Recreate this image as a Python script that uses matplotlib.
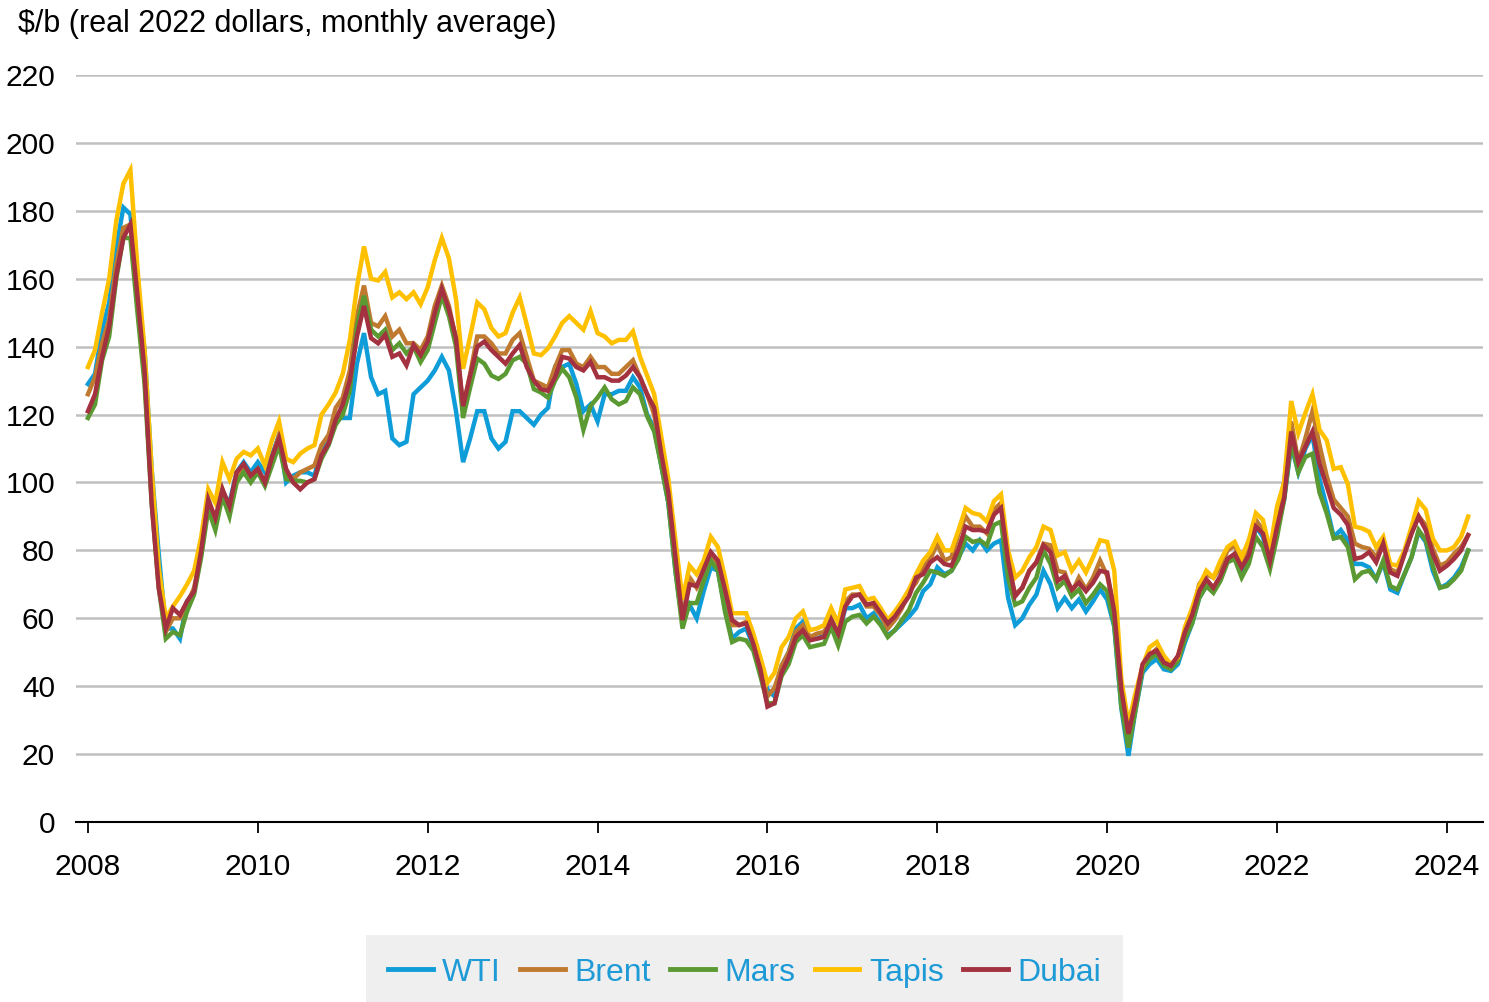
import matplotlib
matplotlib.use("Agg")
import matplotlib.pyplot as plt
import numpy as np

plt.rcParams["font.family"] = ["Liberation Sans", "DejaVu Sans"]

# monthly averages, real 2022 $/b, Jan 2008 .. Apr 2024
wti = [
    129, 132, 145, 153, 169, 181, 179, 156, 139, 104, 79, 57,          # 2008
    57, 54, 65, 68, 80, 95, 87, 97, 94, 103, 106, 103,                 # 2009
    106, 103, 108, 114, 100, 102, 103, 103, 102, 110, 113, 119,        # 2010
    119, 119, 135, 144, 131, 126, 127, 113, 111, 112, 126, 128,        # 2011
    130, 133, 137, 133, 121, 106, 113, 121, 121, 113, 110, 112,        # 2012
    121, 121, 119, 117, 120, 122, 134, 134, 135, 129, 121, 123,        # 2013
    118, 126, 126, 127, 127, 131, 128, 120, 116, 105, 94, 74,          # 2014
    59, 64, 60, 68, 75, 74, 63, 54, 56, 57, 52, 45,                    # 2015
    39, 37, 46, 50, 57, 59, 54, 54, 55, 60, 55, 63,                    # 2016
    63, 64, 60, 61.5, 58.5, 55, 56.5, 58.5, 60.5, 63, 68, 70,          # 2017
    75, 73, 74, 78, 82, 80, 83, 80, 82, 83, 66, 58,                    # 2018
    60, 64, 67, 74, 70, 63, 66, 63, 65.5, 62, 65, 68.5,                # 2019
    65.5, 57.5, 33.5, 19.5, 33, 44, 46.5, 48, 45, 44.5, 46.5, 53,      # 2020
    58.5, 66, 69.5, 68, 71.5, 77.5, 78.5, 73, 77, 87, 84, 76,          # 2021
    87, 95, 111, 103, 110, 114, 101, 93, 84, 86, 83, 76,               # 2022
    76, 75, 71.5, 76.5, 68.5, 67.5, 73, 78, 85.5, 82.5, 74, 69,        # 2023
    70, 72, 75, 80,                                                    # 2024
]
brent = [
    126, 131, 141, 148, 164, 175, 176, 152, 131, 96, 72, 56,
    60, 60, 64, 69, 79, 94, 88, 98, 92, 100, 105, 102,
    104, 100, 107, 114, 103, 101, 103, 104, 105, 111, 114, 122,
    125, 133, 149, 158, 147, 146, 149, 143, 145, 141, 141, 139,
    143, 152, 158, 152, 142, 122, 132, 143, 143, 141, 138, 138,
    142, 144, 137, 130, 129, 128, 134, 139, 139, 135, 134, 137,
    134, 134, 132, 132, 134, 136, 131, 126, 120, 108, 97, 77,
    60, 72, 69, 73, 79, 76, 69, 58, 58, 59, 53, 46,
    37, 39.5, 46, 50, 56, 58, 54.5, 55.5, 56, 60, 54.5, 65,
    67, 67, 63.5, 63.5, 61, 57, 59.5, 63, 68, 70.5, 75, 77.5,
    82, 77, 78, 85, 90, 87, 87, 85, 92, 94, 75.5, 67,
    69, 74, 76.5, 82, 81.5, 74, 73.5, 67.5, 72, 68.5, 72, 77,
    72.5, 63, 36.5, 22, 34, 46, 49, 51, 46.5, 45.5, 48.5, 56.5,
    61.5, 70, 73, 72, 75, 80, 81.5, 76.5, 80, 89, 86, 78.5,
    90, 100, 118, 106, 113, 121, 111, 102, 95, 92.5, 90, 82,
    81, 80.5, 78, 82.5, 74.5, 73.5, 79, 85, 90, 87.5, 80.5, 75.5,
    76.5, 79, 81, 84.5,
]
mars = [
    119, 123, 136, 143, 160, 172, 172, 150, 129, 94, 69, 54,
    56, 55, 62, 67, 78, 92, 86, 96, 90, 100, 103, 100,
    103, 99, 105, 111, 101, 100.5, 100.5, 100, 101, 107, 111, 117,
    120, 127, 146, 155, 145, 143, 145, 139, 141, 138, 140, 135.5,
    139, 147, 155, 149, 140, 119, 128, 136.5, 135, 131.5, 130.5, 132,
    136, 137, 135, 127.5, 126.5, 125, 130, 133.5, 131, 125, 115.5, 122.5,
    125, 128, 124.5, 123, 124, 128, 126, 119.5, 115, 105, 94, 74,
    57, 64.5, 64.5, 71, 77, 74, 62, 53, 54, 53.5, 50.5, 43,
    35, 35, 43, 46.5, 53, 55, 51.5, 52, 52.5, 57.5, 52, 59,
    60.5, 61, 58.5, 60.5, 58, 54.5, 56.5, 59.5, 62.5, 67.5, 70.5, 74,
    73.5, 72.5, 74, 77.5, 84, 82.5, 83, 81.5, 87.5, 88.5, 72, 64,
    65, 69, 72, 80, 76, 69, 71, 66.5, 68.5, 64.5, 67, 70,
    68, 58, 34, 22, 33, 45, 48, 49.5, 46, 45, 47.5, 54,
    58.5, 66, 69.5, 67.5, 71, 76.5, 77.5, 72, 76, 84, 81, 74.5,
    84, 95, 112, 103, 107.5, 108.5, 97, 91, 83.5, 84, 81, 71.5,
    73.5, 74, 71.5, 77, 69.5, 68.5, 73, 78, 86, 83, 75.5, 69,
    69.5, 71.5, 74, 80,
]
tapis = [
    134, 139, 150, 160, 177, 188, 192, 163, 139, 104, 75, 60,
    63.5, 66.5, 70, 74, 84, 98, 94, 106, 101, 107, 109, 108,
    110, 105, 112.5, 118, 107, 106, 108.5, 110, 111, 120, 123, 126.5,
    132, 142, 157.5, 169.5, 160, 159.5, 162, 154.5, 156, 154, 156, 152.5,
    157.5, 165.5, 172, 166, 154, 133.5, 143, 153, 151, 145.5, 143, 144,
    150, 154.5, 146.5, 138, 137.5, 139.5, 143, 147, 149, 147, 145, 150.5,
    144, 143, 141, 142, 142, 144.5, 137, 131.5, 126, 113.5, 101, 83,
    65.5, 75.5, 73, 77, 84, 81, 72, 61.5, 61.5, 61.5, 55.5, 48.5,
    41, 44, 51.5, 54.5, 60, 62, 56.5, 57, 58, 63, 58.5, 68.5,
    69, 69.5, 65.5, 66, 63, 59.5, 62, 65, 68.5, 73, 77, 79.5,
    84, 80, 80, 86, 92.5, 91, 90.5, 88.5, 94.5, 96.5, 80, 72,
    74, 78, 81, 87, 86, 78.5, 79.5, 74, 77, 73.5, 78, 83,
    82.5, 74, 42, 29, 38, 46, 51.5, 53, 49, 46.5, 48.5, 57.5,
    63, 69.5, 74, 72, 77, 81, 82.5, 78, 83, 91, 89, 80,
    93, 100, 124, 114.5, 120.5, 126, 115.5, 112.5, 104, 104.5, 99.5, 87,
    86.5, 85.5, 81, 84, 76, 75.5, 80, 87, 94.5, 92, 83.5, 80,
    80, 81, 84, 90,
]
dubai = [
    121, 126, 137, 146, 161, 172, 176, 155, 133, 94, 69, 57,
    63, 61, 65, 68, 80, 95, 89.5, 98, 93, 103, 105.5, 102,
    104, 100, 107.5, 113, 104, 100, 98, 100, 101, 108, 111.5, 118.5,
    123, 130, 143, 152, 142.5, 141, 143.5, 137, 138, 134.5, 140.5, 137.5,
    141.5, 150, 157, 151, 142.5, 122.5, 131.5, 140, 141.5, 139, 137, 135,
    138, 140.5, 134, 130, 127.5, 127, 131, 137, 136.5, 134, 133, 135.5,
    131, 131, 130, 130, 131.5, 134, 131, 126, 122, 108.5, 97, 78,
    59.5, 70, 69.5, 74.5, 79.5, 77, 68.5, 59.5, 58, 58.5, 52.5, 45,
    34, 35, 44, 48.5, 54.5, 56.5, 53.5, 54, 54.5, 59.5, 55.5, 63.5,
    66.5, 67, 64, 64.5, 61.5, 58.5, 60.5, 63.5, 66.5, 72, 73, 76.5,
    78, 76, 75.5, 80.5, 87, 86, 86, 85.5, 90.5, 92.5, 77, 66.5,
    69, 74, 76.5, 81.5, 79.5, 71, 72.5, 68.5, 70.5, 68, 70.5, 74,
    73.5, 62, 39, 26, 35.5, 46.5, 49.5, 50.5, 47, 46, 49, 56,
    61, 68, 71.5, 69, 72.5, 77.5, 79, 75, 78.5, 87, 85, 77,
    87, 95.5, 115, 106, 110.5, 115, 105.5, 99, 92.5, 90.5, 87.5, 77.5,
    78, 79.5, 76.5, 82, 73.5, 72.5, 79, 85, 90, 86, 79, 74,
    75.5, 77.5, 80, 84.5,
]

series = [
    ("WTI", wti, "#0e9dd8"),
    ("Brent", brent, "#c07a30"),
    ("Mars", mars, "#5b9a32"),
    ("Tapis", tapis, "#ffc000"),
    ("Dubai", dubai, "#a3313f"),
]
years = 2008 + np.arange(len(wti)) / 12.0

fig = plt.figure(figsize=(14.89, 10.02), dpi=100)
ax = fig.add_axes([0.051, 0.1796, 0.945, 0.7455])

for name, vals, color in series:
    ax.plot(years, vals, color=color, linewidth=3.2, label=name,
            solid_joinstyle="miter", zorder=3)

ax.set_ylim(0, 220)
ax.set_xlim(2008 - 12 / 7.078 / 12, 2008 + 197.1 / 12)
ax.set_yticks(np.arange(0, 221, 20))
ax.set_xticks(np.arange(2008, 2025, 2))
ax.grid(axis="y", color="#c0c0c0", linewidth=1.8, zorder=1)
ax.set_axisbelow(True)

for side in ["left", "right", "top"]:
    ax.spines[side].set_visible(False)
ax.spines["bottom"].set_linewidth(1.5)
ax.tick_params(axis="y", length=0, pad=15, labelsize=21.5)
ax.tick_params(axis="x", length=8, width=1.3, direction="out", pad=14, labelsize=21.5)

fig.text(0.012, 0.976, "$/b (real 2022 dollars, monthly average)",
         fontsize=22, va="center", ha="left")

leg = fig.legend(loc="lower center", bbox_to_anchor=(0.5, -0.008), ncol=5,
                 frameon=True, fancybox=False, facecolor="#efefef", edgecolor="none",
                 fontsize=23, labelcolor="#1e9ad6", handlelength=1.4,
                 handletextpad=0.3, columnspacing=0.6, borderpad=0.7,
                 borderaxespad=0.0)
leg.get_frame().set_alpha(1)
for line in leg.get_lines():
    line.set_linewidth(3.5)

fig.savefig("out.png", dpi=100)
